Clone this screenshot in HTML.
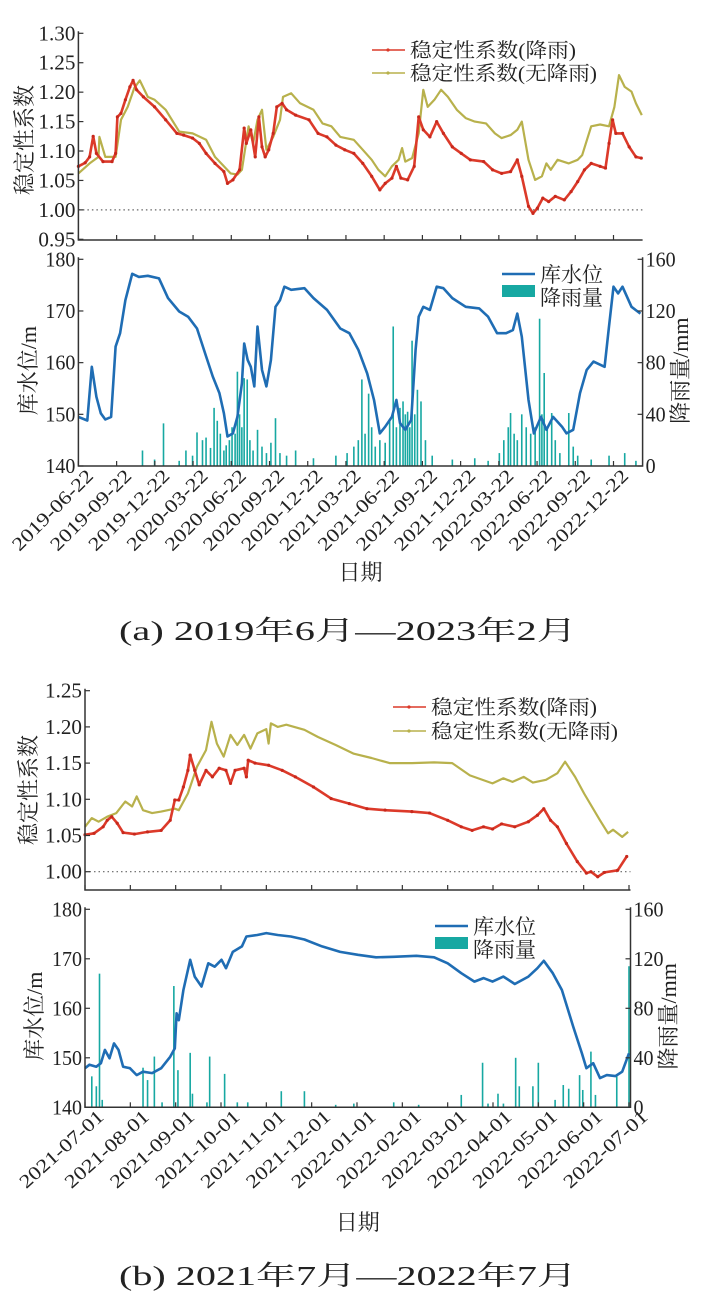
<!DOCTYPE html>
<html><head><meta charset="utf-8"><style>
html,body{margin:0;padding:0;background:#fff}
svg{display:block}
text{font-family:"Liberation Serif","Noto Serif CJK SC",serif;fill:#222}
.cj{font-family:"Liberation Serif","Noto Serif CJK SC",serif}
</style></head><body>
<svg id="fig" width="702" height="1300" viewBox="0 0 702 1300" xmlns="http://www.w3.org/2000/svg"></svg>
<script>
// ===== Panel (a) data: time in months since 2019-06-22 =====
const aTicks=["2019-06-22","2019-09-22","2019-12-22","2020-03-22","2020-06-22","2020-09-22","2020-12-22","2021-03-22","2021-06-22","2021-09-22","2021-12-22","2022-03-22","2022-06-22","2022-09-22","2022-12-22"];
const aRedT=[0,0.53,0.88,1.16,1.41,1.93,2.64,2.92,3.06,3.34,3.69,4.04,4.29,4.57,5.10,5.98,6.85,7.73,8.26,8.96,9.49,10.02,10.72,11.42,11.70,12.13,12.65,13.01,13.18,13.53,13.88,14.17,14.41,14.66,14.94,15.29,15.57,15.99,16.34,17.05,18.10,18.81,19.51,20.21,20.91,21.62,22.32,23.02,23.66,24.08,24.61,24.96,25.31,25.84,26.36,26.71,27.07,27.59,28.12,28.65,29.35,30.05,30.76,31.81,32.51,33.22,33.92,34.45,34.80,35.33,35.68,36.03,36.45,36.91,37.43,38.14,38.67,39.19,39.72,40.25,40.95,41.37,41.65,41.93,42.18,42.71,43.23,43.76,44.18];
const aRedV=[1.074,1.08,1.09,1.125,1.096,1.082,1.082,1.096,1.158,1.164,1.187,1.209,1.22,1.204,1.192,1.175,1.153,1.13,1.127,1.122,1.113,1.096,1.079,1.065,1.045,1.051,1.068,1.139,1.113,1.136,1.09,1.158,1.107,1.09,1.102,1.13,1.175,1.181,1.17,1.161,1.153,1.13,1.124,1.11,1.102,1.096,1.079,1.057,1.034,1.045,1.054,1.074,1.054,1.051,1.074,1.158,1.136,1.124,1.15,1.13,1.107,1.096,1.085,1.082,1.068,1.062,1.065,1.085,1.057,1.006,0.994,1.003,1.02,1.014,1.023,1.017,1.031,1.048,1.068,1.079,1.074,1.071,1.113,1.153,1.13,1.13,1.107,1.09,1.088];
const aYelT=[0,0.88,1.58,1.65,2.11,2.92,3.34,3.87,4.39,4.82,5.45,5.98,6.85,7.91,8.96,10.02,10.72,11.42,11.95,12.48,12.83,13.36,13.71,14.06,14.41,14.76,15.29,15.82,16.06,16.70,17.40,18.45,19.16,19.86,20.56,21.62,22.32,23.02,23.55,24.08,24.61,25.13,25.41,25.66,26.19,26.71,27.07,27.42,27.94,28.47,29.00,29.70,30.40,31.11,31.99,32.69,33.22,33.92,34.45,34.80,35.33,35.85,36.38,36.73,37.08,37.61,38.49,39.19,39.54,40.25,40.95,41.65,42.07,42.43,42.88,43.41,43.76,44.22];
const aYelV=[1.062,1.079,1.09,1.124,1.09,1.09,1.153,1.175,1.207,1.22,1.192,1.187,1.17,1.133,1.13,1.119,1.09,1.074,1.062,1.06,1.068,1.142,1.113,1.153,1.17,1.102,1.124,1.153,1.192,1.198,1.181,1.17,1.147,1.142,1.124,1.119,1.102,1.085,1.068,1.057,1.074,1.085,1.105,1.082,1.088,1.13,1.204,1.175,1.187,1.204,1.192,1.17,1.156,1.15,1.147,1.13,1.122,1.127,1.136,1.15,1.085,1.051,1.057,1.079,1.068,1.085,1.079,1.085,1.093,1.142,1.145,1.142,1.175,1.229,1.209,1.201,1.181,1.161];
const aWatT=[0,0.70,1.05,1.41,1.76,2.11,2.57,2.92,3.27,3.69,4.22,4.75,5.45,6.33,7.03,7.91,8.61,9.31,10.02,10.55,11.07,11.42,11.70,12.13,12.48,12.83,13.01,13.29,13.53,13.81,14.06,14.41,14.76,15.11,15.47,15.82,16.17,16.70,17.75,18.45,19.51,20.56,21.27,21.97,22.67,23.20,23.66,24.08,24.61,24.96,25.24,25.66,26.12,26.47,26.71,27.07,27.59,28.12,28.65,29.35,30.40,31.46,32.16,32.86,33.57,34.10,34.45,34.80,35.33,35.75,36.31,36.73,37.26,37.96,38.31,38.84,39.37,39.90,40.43,41.30,41.65,42.00,42.36,42.71,43.41,44.11];
const aWatV=[149.5,148.8,159.2,153.4,150.2,149,149.5,163.1,165.7,172.1,177.2,176.6,176.8,176.3,172.5,169.9,168.9,166.6,161.2,157.3,154.1,150.2,145.7,146.3,149.5,156,163.7,160.5,159.2,155.4,167,158.6,155.4,160.5,170.8,172.1,174.7,174.1,174.4,172.5,170.2,166.6,165.7,162.5,157.9,152.8,146.3,147.6,149.5,152.8,148.3,147,148.9,162.5,168.9,170.8,170.2,174.7,174.4,172.5,170.8,170.5,168.9,165.7,165.7,166.3,169.5,165,152.8,146.3,149.5,147,149.5,147.6,146.3,147,154.1,158.6,160.2,159.2,167,174.7,173.4,174.7,170.8,169.5];
const aRainT=[5.03,5.98,6.68,7.91,8.44,8.96,9.31,9.74,10.02,10.37,10.65,10.90,11.14,11.42,11.60,11.85,12.06,12.30,12.48,12.65,12.83,13.01,13.25,13.46,13.71,14.06,14.41,14.76,15.11,15.47,15.82,16.34,17.05,18.45,20.21,21.09,21.62,21.97,22.25,22.50,22.78,23.02,23.30,23.66,24.08,24.43,24.71,24.96,25.24,25.48,25.66,25.84,26.01,26.19,26.40,26.61,26.89,27.24,27.77,29.35,31.11,32.16,33.04,33.39,33.74,33.92,34.20,34.45,34.80,35.15,35.50,35.85,36.20,36.38,36.56,36.80,37.15,37.43,37.79,38.49,38.84,39.19,40.25,41.65,42.88,43.76];
const aRainV=[12,5,33,4,12,8,26,20,22,14,45,35,25,12,16,20,30,25,73,40,30,68,67,20,12,28,15,10,18,37,10,8,12,6,8,10,15,20,67,25,56,30,15,20,18,35,108,30,45,50,40,42,30,97,40,59,50,20,8,5,6,4,10,20,30,41,25,20,40,30,25,30,114,40,72,30,41,20,10,41,15,8,5,8,10,4];
// ===== Panel (b) data: time in months since 2021-07-01 =====
const bTicks=["2021-07-01","2021-08-01","2021-09-01","2021-10-01","2021-11-01","2021-12-01","2022-01-01","2022-02-01","2022-03-01","2022-04-01","2022-05-01","2022-06-01","2022-07-01"];
const bRedT=[0,0.20,0.40,0.49,0.59,0.71,0.84,1.09,1.38,1.68,1.88,1.98,2.07,2.17,2.27,2.32,2.42,2.52,2.67,2.81,2.96,3.11,3.21,3.31,3.51,3.56,3.60,3.75,4.05,4.35,4.64,5.04,5.43,5.83,6.22,6.62,7.21,7.60,8.0,8.30,8.54,8.79,8.99,9.19,9.48,9.78,9.98,10.12,10.27,10.42,10.62,10.86,11.06,11.16,11.31,11.46,11.75,11.95];
const bRedV=[1.051,1.053,1.062,1.071,1.076,1.067,1.054,1.052,1.055,1.057,1.071,1.099,1.099,1.117,1.14,1.161,1.14,1.12,1.14,1.131,1.143,1.14,1.122,1.14,1.143,1.131,1.154,1.15,1.147,1.14,1.131,1.117,1.101,1.094,1.087,1.085,1.083,1.081,1.071,1.062,1.057,1.062,1.059,1.066,1.062,1.069,1.078,1.087,1.071,1.062,1.039,1.014,0.998,1.0,0.993,0.999,1.002,1.021];
const bYelT=[0,0.15,0.30,0.49,0.69,0.89,1.04,1.14,1.28,1.48,1.68,1.98,2.07,2.27,2.47,2.67,2.79,2.91,3.06,3.21,3.36,3.51,3.65,3.80,4.00,4.05,4.10,4.25,4.44,4.84,5.14,5.53,5.93,6.32,6.72,7.21,7.70,8.10,8.49,8.99,9.23,9.43,9.68,9.88,10.17,10.42,10.59,10.81,11.01,11.36,11.54,11.65,11.85,11.98];
const bYelV=[1.062,1.074,1.069,1.076,1.081,1.097,1.09,1.104,1.085,1.081,1.083,1.087,1.085,1.108,1.145,1.168,1.207,1.177,1.159,1.189,1.175,1.189,1.17,1.191,1.197,1.177,1.205,1.2,1.203,1.196,1.186,1.175,1.163,1.157,1.15,1.15,1.151,1.15,1.133,1.122,1.129,1.124,1.131,1.123,1.127,1.136,1.152,1.131,1.108,1.071,1.053,1.058,1.048,1.055];
const bWatT=[0,0.10,0.25,0.35,0.44,0.54,0.64,0.74,0.84,0.99,1.14,1.28,1.48,1.68,1.88,1.98,2.02,2.07,2.17,2.32,2.42,2.57,2.72,2.86,3.01,3.11,3.26,3.46,3.56,3.80,4.00,4.25,4.54,4.84,5.23,5.63,6.02,6.42,6.81,7.31,7.70,8.0,8.30,8.59,8.79,8.99,9.23,9.48,9.78,9.98,10.12,10.32,10.52,10.77,10.96,11.06,11.21,11.36,11.51,11.70,11.85,12.0];
const bWatV=[147.9,148.6,148.2,148.9,151.6,149.9,152.9,151.6,148.2,147.9,146.5,147.2,146.9,147.9,150.2,151.9,159,157.6,163.7,169.8,166.4,164.4,169.1,168.4,169.8,168.1,171.4,172.5,174.5,174.8,175.2,174.8,174.5,173.9,172.5,171.4,170.8,170.3,170.4,170.6,170.3,169.1,167.1,165.4,166.1,165.4,166.4,164.9,166.4,168.1,169.6,167.1,163.7,156.3,150.9,147.9,148.9,145.9,146.5,146.3,147.2,150.9];
const bRainT=[0.15,0.25,0.32,0.38,1.28,1.38,1.53,1.70,1.96,2.05,2.32,2.37,2.69,2.75,3.08,3.36,3.59,4.33,4.84,5.53,5.93,6.81,7.36,8.30,8.77,8.89,9.11,9.23,9.50,9.58,9.88,10.0,10.37,10.55,10.67,10.91,10.98,11.16,11.26,11.73,12.0];
const bRainV=[25,17,108,6,32,22,41,4,98,30,44,11,4,41,27,4,4,13,13,2,3,4,2,10,36,3,11,3,40,17,17,36,6,18,15,26,14,45,10,25,114];

const NS="http://www.w3.org/2000/svg";
const fig=document.getElementById('fig');
function mk(tag,attrs,parent){const e=document.createElementNS(NS,tag);for(const k in attrs)e.setAttribute(k,attrs[k]);(parent||fig).appendChild(e);return e;}
function txt(s,attrs,parent){const e=mk('text',attrs,parent);e.textContent=s;return e;}
function lin(x0,x1,d0,d1){return v=>x0+(v-d0)*(x1-x0)/(d1-d0);}
function pathOf(T,V,sx,sy){let d='';for(let i=0;i<T.length;i++){d+=(i?'L':'M')+sx(T[i]).toFixed(1)+','+sy(V[i]).toFixed(1);}return d;}

function panel(P){
  const g=mk('g',{});
  
  
  const sx=lin(P.x0,P.x1,0,P.tmax);
  const sy=lin(P.sTop,P.sBot,P.sMax,P.sMin);
  const dl=mk('line',{x1:P.x0,x2:P.xr,y1:sy(1),y2:sy(1),stroke:'#666','stroke-width':1.2,'stroke-dasharray':'1.5,3'},g);
  
  
  const yel=mk('path',{d:pathOf(P.yT,P.yV,sx,sy),fill:'none',stroke:'#b8b14c','stroke-width':2.2,'stroke-linejoin':'round'},g);
  
  
  const red=mk('path',{d:pathOf(P.rT,P.rV,sx,sy),fill:'none',stroke:'#dc3a2a','stroke-width':2.6,'stroke-linejoin':'round'},g);
  
  
  for(let i=0;i<P.rT.length;i++){const c=mk('circle',{cx:sx(P.rT[i]),cy:sy(P.rV[i]),r:1.6,fill:'#c8281c'},g);
    
    }
  mk('path',{d:`M${P.x0},${P.sTop-2}V${P.sAxB}H${P.xr}`,fill:'none',stroke:'#333','stroke-width':1.5},g);
  P.sTicks.forEach(v=>{const y=sy(v);mk('line',{x1:P.x0,x2:P.x0+5,y1:y,y2:y,stroke:'#333','stroke-width':1.2},g);
    const t=txt(v.toFixed(2),{x:P.x0-3,y:y+7,'text-anchor':'end','font-size':21,textLength:37,lengthAdjust:'spacingAndGlyphs'},g);
    
    });
  P.ticks.forEach((s,i)=>{const x=sx(i*P.step);mk('line',{x1:x,x2:x,y1:P.sAxB,y2:P.sAxB-5,stroke:'#333','stroke-width':1.2},g);});
  const st=txt('稳定性系数',{class:'cj',x:0,y:0,'text-anchor':'middle','font-size':22,transform:`translate(${P.stX},${P.stY}) rotate(-90)`},g);
  
  
  const L=P.leg1;
  [['稳定性系数(降雨)','#dc3a2a',0],['稳定性系数(无降雨)','#b8b14c',L.dy]].forEach(([s,c,dy],k)=>{
    mk('line',{x1:L.x,x2:L.x+33,y1:L.y+dy,y2:L.y+dy,stroke:c,'stroke-width':1.5},g);
    mk('circle',{cx:L.x+16,cy:L.y+dy,r:1.6,fill:c},g);
    const t=txt(s,{class:'cj',x:L.x+38,y:L.y+dy+7,'font-size':20,textLength:k?187:166,lengthAdjust:'spacingAndGlyphs'},g);
    
    });
  const wy=lin(P.wTop,P.wBot,180,140);
  const ry=lin(P.wTop,P.wBot,160,0);
  P.raT.forEach((t,i)=>{const x=sx(t);const b=mk('rect',{x:x-0.8,y:ry(P.raV[i]),width:1.6,height:P.wBot-ry(P.raV[i]),fill:'#17a8a2'},g);
    
    });
  const w=mk('path',{d:pathOf(P.wT,P.wV,sx,wy),fill:'none',stroke:'#1f6db4','stroke-width':2.6,'stroke-linejoin':'round'},g);
  
  
  mk('path',{d:`M${P.x0},${P.wTop-2}V${P.wBot}H${P.xr}V${P.wTop-2}`,fill:'none',stroke:'#333','stroke-width':1.5},g);
  [140,150,160,170,180].forEach(v=>{const y=wy(v);mk('line',{x1:P.x0,x2:P.x0+5,y1:y,y2:y,stroke:'#333','stroke-width':1.2},g);
    const t=txt(String(v),{x:P.x0-3,y:y+7,'text-anchor':'end','font-size':21,textLength:30,lengthAdjust:'spacingAndGlyphs'},g);
    
    });
  [0,40,80,120,160].forEach(v=>{const y=ry(v);mk('line',{x1:P.xr,x2:P.xr-5,y1:y,y2:y,stroke:'#333','stroke-width':1.2},g);
    const t=txt(String(v),{x:P.xr+3,y:y+7,'font-size':21,textLength:v>=100?30:(v?20:10),lengthAdjust:'spacingAndGlyphs'},g);
    
    });
  P.ticks.forEach((s,i)=>{const x=sx(i*P.step);mk('line',{x1:x,x2:x,y1:P.wBot,y2:P.wBot-5,stroke:'#333','stroke-width':1.2},g);
    const t=txt(s,{x:0,y:0,'text-anchor':'end','font-size':19,textLength:106,lengthAdjust:'spacingAndGlyphs',transform:`translate(${x+P.lblDx},${P.wBot+P.lblDy}) rotate(${P.ang})`},g);
    
    });
  const wt=txt('库水位/m',{class:'cj',x:0,y:0,'text-anchor':'middle','font-size':22,transform:`translate(${P.wtX},${(P.wTop+P.wBot)/2+8}) rotate(-90)`},g);
  
  
  const rt=txt('降雨量/mm',{class:'cj',x:0,y:0,'text-anchor':'middle','font-size':22,transform:`translate(${P.rtX},${(P.wTop+P.wBot)/2+8}) rotate(-90)`},g);
  
  
  const L2=P.leg2;
  mk('line',{x1:L2.x,x2:L2.x+33,y1:L2.y,y2:L2.y,stroke:'#1f6db4','stroke-width':2.6},g);
  mk('rect',{x:L2.x,y:L2.y+11,width:33,height:12,fill:'#17a8a2'},g);
  const l1=txt('库水位',{class:'cj',x:L2.x+38,y:L2.y+8,'font-size':21},g);
  
  
  const l2=txt('降雨量',{class:'cj',x:L2.x+38,y:L2.y+31,'font-size':21},g);
  
  
  const xt=txt('日期',{class:'cj',x:(P.x0+P.xr)/2,y:P.xtY,'text-anchor':'middle','font-size':22},g);
  
  
  const cap=txt(P.caption,{class:'cj',x:119,y:P.capY,'font-size':27,textLength:458,lengthAdjust:'spacingAndGlyphs'},g);
  
  
}

panel({name:'panel-a',x0:78.4,x1:613.5,tmax:42,xr:642.6,step:3,ticks:aTicks,
  sTop:33.3,sBot:239.3,sMax:1.30,sMin:0.95,sAxB:240,sTicks:[0.95,1.00,1.05,1.10,1.15,1.20,1.25,1.30],
  rT:aRedT,rV:aRedV,yT:aYelT,yV:aYelV,stX:32,stY:140,leg1:{x:372,y:50,dy:23},
  wTop:259.3,wBot:466,wT:aWatT,wV:aWatV,raT:aRainT,raV:aRainV,wtX:36,rtX:688,leg2:{x:502,y:274},
  lblDx:16,lblDy:11,ang:-45,xtY:580,caption:'(a) 2019年6月—2023年2月',capY:640});
panel({name:'panel-b',x0:85,x1:629,tmax:12,xr:630.5,step:1,ticks:bTicks,
  sTop:690.7,sBot:871.7,sMax:1.25,sMin:1.00,sAxB:890,sTicks:[1.00,1.05,1.10,1.15,1.20,1.25],
  rT:bRedT,rV:bRedV,yT:bYelT,yV:bYelV,stX:36,stY:790,leg1:{x:393,y:707,dy:24},
  wTop:909.3,wBot:1107.3,wT:bWatT,wV:bWatV,raT:bRainT,raV:bRainV,wtX:42,rtX:676,leg2:{x:435,y:926},
  lblDx:20,lblDy:11,ang:-42,xtY:1230,caption:'(b) 2021年7月—2022年7月',capY:1285});
</script>
</body></html>
